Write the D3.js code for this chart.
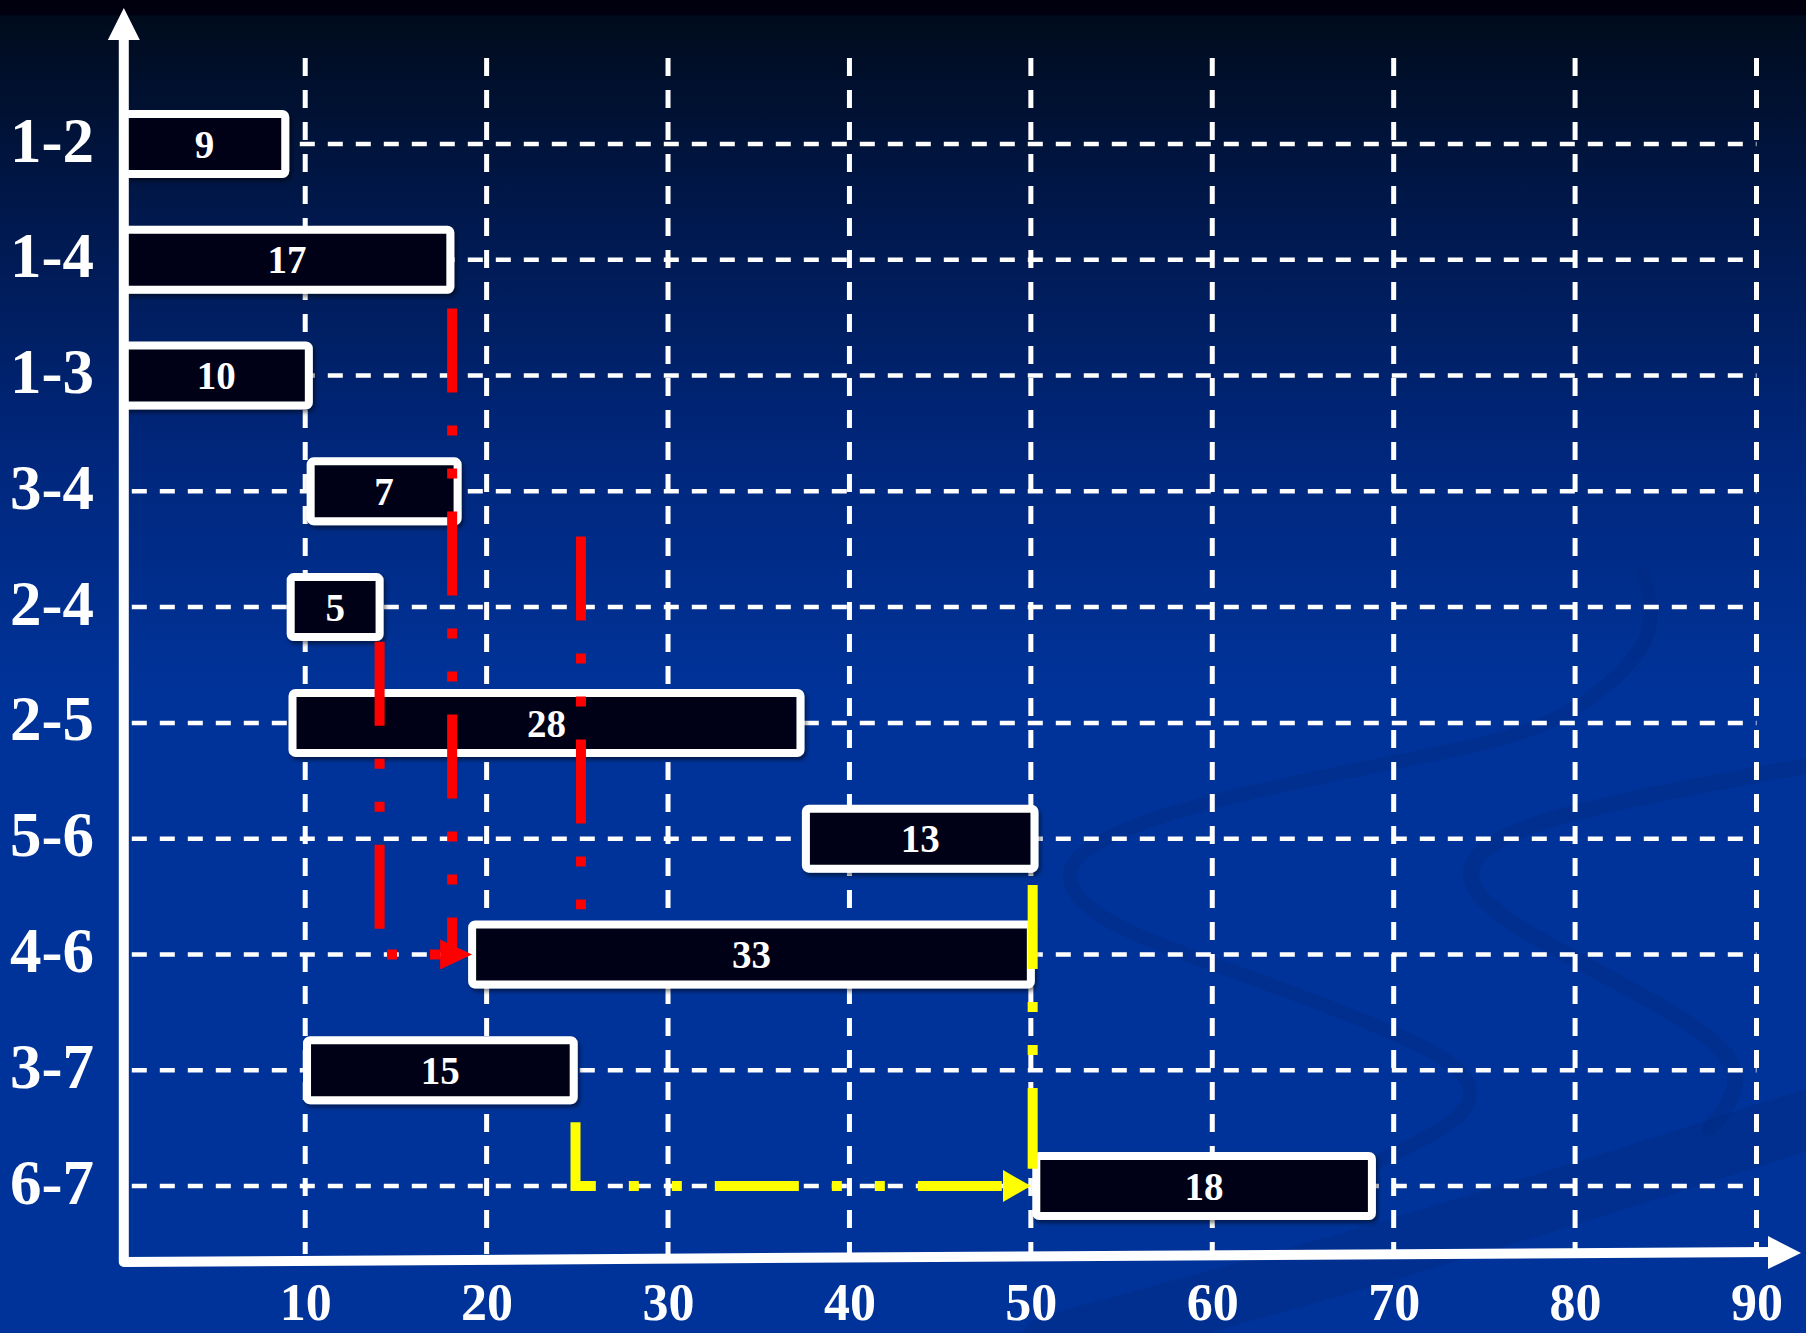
<!DOCTYPE html>
<html>
<head>
<meta charset="utf-8">
<script src="https://cdn.jsdelivr.net/npm/d3@7"></script>
<style>
  html, body { margin: 0; padding: 0; background: #003399; }
  svg { display: block; }
  text { font-family: "Liberation Serif", "Times New Roman", serif; font-weight: bold; fill: #fff; }
</style>
</head>
<body>
<div id="chart"></div>
<script>
// activities, top to bottom on the y axis
const activities = ["1-2", "1-4", "1-3", "3-4", "2-4", "2-5", "5-6", "4-6", "3-7", "6-7"];
// duration written inside each box
const durations = [9, 17, 10, 7, 5, 28, 13, 33, 15, 18];
// start / end of each box on the time axis, as drawn
const starts = [0, 0, 0, 10.3, 9.2, 9.3, 37.6, 19.2, 10.1, 50.3];
const ends   = [8.9, 18.0, 10.2, 18.4, 14.1, 37.3, 50.2, 50.0, 24.8, 68.8];
const timeTicks = [10, 20, 30, 40, 50, 60, 70, 80, 90];

// dash-dot-dot links: [time, row index] points
const redLinks = [
  [[14.1, 4.3], [14.1, 7], [19.2, 7]],
  [[18.1, 1.42], [18.1, 6.98]],
  [[25.2, 3.39], [25.2, 6.61]]
];
const redArrow = [true, false, false];
const yellowLinks = [
  [[50.1, 6.4], [50.1, 8.85]],
  [[24.9, 8.45], [24.9, 9], [50.0, 9]]
];
const yellowArrow = [false, true];

const W = 1806, H = 1333;
const axisY = 1262;

const svg = d3.select("#chart").append("svg")
    .attr("width", W)
    .attr("height", H);

const defs = svg.append("defs");

// background gradient
const grad = defs.append("linearGradient")
    .attr("id", "bg").attr("x1", 0).attr("y1", 0).attr("x2", 0).attr("y2", 1);
[[0, "#00000f"], [0.011, "#000010"], [0.012, "#000b1c"], [0.15, "#001749"],
 [0.33, "#00267a"], [0.52, "#003399"], [1, "#003399"]].forEach(s => {
  grad.append("stop").attr("offset", s[0]).attr("stop-color", s[1]);
});

const shadow = defs.append("filter").attr("id", "shadow")
    .attr("x", "-10%").attr("y", "-20%").attr("width", "130%").attr("height", "160%");
shadow.append("feDropShadow")
    .attr("dx", 2).attr("dy", 3).attr("stdDeviation", 2)
    .attr("flood-color", "#000").attr("flood-opacity", 0.5);

// arrow heads
const makeMarker = (id, color, len, half) => {
  defs.append("marker")
      .attr("id", id)
      .attr("markerUnits", "userSpaceOnUse")
      .attr("markerWidth", len).attr("markerHeight", half * 2)
      .attr("refX", 0).attr("refY", half)
      .attr("orient", "auto")
    .append("path")
      .attr("d", `M0,0L${len},${half}L0,${half * 2}Z`)
      .attr("fill", color);
};
makeMarker("redHead", "#ff0000", 32, 15);
makeMarker("yellowHead", "#ffff00", 28, 16);

svg.append("rect").attr("width", W).attr("height", H).attr("fill", "url(#bg)");

// template swooshes in the background
const deco = svg.append("g").attr("fill", "none").attr("stroke", "#00287f").attr("stroke-linecap", "round");
const curve = d3.line().curve(d3.curveBasis);
deco.append("path")
    .attr("d", curve([[1643, 574], [1663, 640], [1566, 723], [1463, 750], [1206, 798], [1077, 846],
                      [1062, 883], [1103, 926], [1257, 979], [1437, 1048], [1478, 1085], [1463, 1122], [1360, 1170]]))
    .attr("stroke-width", 14).attr("opacity", 0.35);
deco.append("path")
    .attr("d", curve([[1806, 766], [1514, 819], [1452, 872], [1504, 926], [1720, 1032], [1745, 1085], [1710, 1128]]))
    .attr("stroke-width", 16).attr("opacity", 0.35);
deco.append("path")
    .attr("d", curve([[1050, 1345], [1400, 1250], [1806, 1120]]))
    .attr("stroke-width", 60).attr("opacity", 0.3);

// scales
const x = d3.scaleLinear().domain([0, 90]).range([123.8, 1756.5]);
const y = d3.scalePoint().domain(activities).range([144, 1186]);
const rowIdx = d3.scaleLinear().domain([0, activities.length - 1]).range([144, 1186]);

// vertical grid
svg.append("g").selectAll("line")
    .data(timeTicks)
  .join("line")
    .attr("x1", d => x(d)).attr("x2", d => x(d))
    .attr("y1", 58).attr("y2", axisY - 8)
    .attr("stroke", "#fff").attr("stroke-width", 5)
    .attr("stroke-dasharray", "18,14");

// horizontal grid
svg.append("g").selectAll("line")
    .data(activities)
  .join("line")
    .attr("x1", x(0) + 8).attr("x2", x(90))
    .attr("y1", d => y(d)).attr("y2", d => y(d))
    .attr("stroke", "#fff").attr("stroke-width", 4.5)
    .attr("stroke-dasharray", "15,13");

// x tick labels
const xAxis = svg.append("g")
    .attr("transform", "translate(0," + axisY + ")")
    .call(d3.axisBottom(x).tickValues(timeTicks).tickSize(0).tickPadding(0));
xAxis.select(".domain").remove();
xAxis.selectAll("text")
    .attr("y", 58).attr("dy", null)
    .attr("fill", "#fff")
    .style("font-size", "52px")
    .style("font-family", "'Liberation Serif', 'Times New Roman', serif")
    .style("font-weight", "bold");

// y labels
const yAxis = svg.append("g")
    .attr("transform", "translate(" + x(0) + ",0)")
    .call(d3.axisLeft(y).tickSize(0).tickPadding(0));
yAxis.select(".domain").remove();
yAxis.selectAll("text")
    .attr("x", 10 - x(0)).attr("dy", "0.27em")
    .attr("text-anchor", "start")
    .attr("fill", "#fff")
    .style("font-size", "63px")
    .style("font-family", "'Liberation Serif', 'Times New Roman', serif")
    .style("font-weight", "bold");

// boxes
const rows = activities.map((a, i) => ({ act: a, dur: durations[i], s: starts[i], e: ends[i] }));
const box = svg.append("g").selectAll("g")
    .data(rows)
  .join("g");
box.append("rect")
    .attr("x", d => x(d.s))
    .attr("y", d => y(d.act) - 30)
    .attr("width", d => x(d.e) - x(d.s))
    .attr("height", 60)
    .attr("rx", 3)
    .attr("fill", "#000614")
    .attr("stroke", "#fff")
    .attr("stroke-width", 8)
    .attr("filter", "url(#shadow)");
box.append("text")
    .attr("x", d => (x(d.s) + x(d.e)) / 2)
    .attr("y", d => y(d.act))
    .attr("dy", "0.35em")
    .attr("text-anchor", "middle")
    .style("font-size", "39px")
    .text(d => d.dur);

// links
const drawLinks = (links, arrows, color, marker, headLen) => {
  links.forEach((pts, i) => {
    let p = pts.map(d => [x(d[0]), rowIdx(d[1])]);
    if (arrows[i]) {
      const last = p[p.length - 1];
      p[p.length - 1] = [last[0] - headLen, last[1]];
    }
    svg.append("path")
        .attr("d", d3.line()(p))
        .attr("fill", "none")
        .attr("stroke", color)
        .attr("stroke-width", 10)
        .attr("stroke-dasharray", "84,33,10,33,10,33")
        .attr("marker-end", arrows[i] ? "url(#" + marker + ")" : null);
  });
};
drawLinks(redLinks, redArrow, "#ff0000", "redHead", 32);
drawLinks(yellowLinks, yellowArrow, "#ffff00", "yellowHead", 28);

// axes with arrows
svg.append("path")
    .attr("d", `M${x(0)},36L${x(0)},${axisY}L${W - 36},${axisY - 10}`)
    .attr("fill", "none")
    .attr("stroke", "#fff")
    .attr("stroke-width", 10)
    .attr("stroke-linejoin", "round");
svg.append("path")
    .attr("d", `M${x(0)},8L${x(0) + 16},40L${x(0) - 16},40Z`)
    .attr("fill", "#fff");
svg.append("path")
    .attr("d", `M${W - 5},${axisY - 9}L${W - 38},${axisY - 26}L${W - 38},${axisY + 7}Z`)
    .attr("fill", "#fff");
</script>
</body>
</html>
